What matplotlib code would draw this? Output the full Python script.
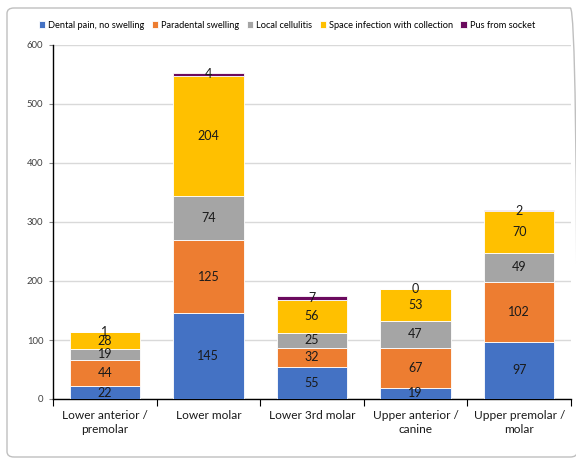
import numpy as np
import matplotlib.pyplot as plt
from matplotlib.patches import FancyBboxPatch

plt.rcParams["font.family"] = ["Lato", "DejaVu Sans"]

categories = ["Lower anterior /\npremolar", "Lower molar", "Lower 3rd molar",
              "Upper anterior /\ncanine", "Upper premolar /\nmolar"]
series_names = ["Dental pain, no swelling", "Paradental swelling", "Local cellulitis",
                "Space infection with collection", "Pus from socket"]
dental_pain = [22, 145, 55, 19, 97]
paradental = [44, 125, 32, 67, 102]
cellulitis = [19, 74, 25, 47, 49]
space_infection = [28, 204, 56, 53, 70]
pus = [1, 4, 7, 0, 2]

COLORS = ["#4472C4", "#ED7D31", "#A5A5A5", "#FFC000", "#6B0A5E"]

fig = plt.figure(figsize=(5.76, 4.59), dpi=100)
W, H = 576, 459
ax = fig.add_axes([53 / W, 1 - 399 / H, (571 - 53) / W, (399 - 45) / H])

# rounded outer frame
frame = FancyBboxPatch((7 / W, 2 / H), 0.99, 449 / H,
                       boxstyle="round,pad=0,rounding_size=0.012",
                       transform=fig.transFigure, fill=False,
                       edgecolor="#BFBFBF", linewidth=1.0)
fig.patches.append(frame)

x = np.arange(len(categories))
bottom = np.zeros(len(categories))
for name, vals, col in zip(series_names,
                           [dental_pain, paradental, cellulitis, space_infection, pus],
                           COLORS):
    vals = np.array(vals, dtype=float)
    ax.bar(x, vals, bottom=bottom, width=0.68, color=col, edgecolor="white",
           linewidth=0.6, label=name, zorder=3)
    for xi, b, v in zip(x, bottom, vals):
        ax.text(xi, b + v / 2, f"{int(v)}", ha="center", va="center",
                fontsize=9, color="#1a1a1a", zorder=4)
    bottom += vals

ax.set_xlim(-0.5, len(categories) - 0.5)
ax.set_ylim(0, 600)
ax.set_yticks(np.arange(0, 601, 100))
ax.tick_params(axis="y", labelsize=6.8, length=3, width=0.8, color="#888888",
               labelcolor="#404040", pad=4)
ax.yaxis.grid(True, color="#D9D9D9", linewidth=1.0, zorder=0)
ax.set_axisbelow(True)

ax.set_xticks(x)
ax.set_xticklabels(categories, fontsize=8.6, color="#1a1a1a", linespacing=1.35)
ax.tick_params(axis="x", length=0, pad=8)
ax.set_xticks(np.arange(-0.5, len(categories)), minor=True)
ax.tick_params(axis="x", which="minor", length=5, width=0.8, color="black")

for s in ["top", "right"]:
    ax.spines[s].set_visible(False)
ax.spines["left"].set_color("black")
ax.spines["bottom"].set_color("black")
ax.spines["left"].set_linewidth(1.0)
ax.spines["bottom"].set_linewidth(1.0)

fig.legend(loc="center", bbox_to_anchor=(287 / W, 1 - 25 / H), ncol=5,
           frameon=False, fontsize=6.7, handlelength=0.7, handleheight=0.7,
           handletextpad=0.3, columnspacing=0.8)

fig.savefig("out.png", dpi=100)
